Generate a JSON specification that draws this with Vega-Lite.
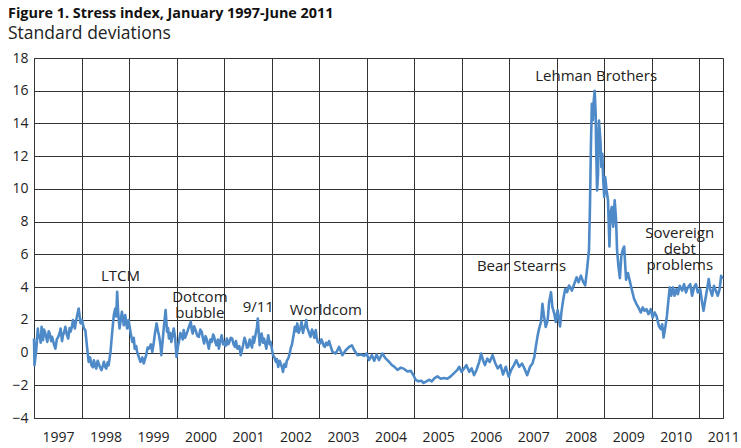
{
  "$schema": "https://vega.github.io/schema/vega-lite/v6.json",
  "width": 689,
  "height": 360,
  "autosize": "none",
  "padding": {"left": 34, "top": 58, "right": 18, "bottom": 30},
  "background": "white",
  "title": {
    "text": "Figure 1. Stress index, January 1997-June 2011",
    "subtitle": "Standard deviations",
    "anchor": "start",
    "frame": "group",
    "dx": -26,
    "font": "Open Sans",
    "fontSize": 14.4,
    "fontWeight": "bold",
    "color": "#111",
    "subtitleFont": "Open Sans",
    "subtitleFontSize": 17.5,
    "subtitleColor": "#222",
    "subtitlePadding": 3,
    "offset": 8
  },
  "config": {
    "view": {"stroke": "#333", "strokeWidth": 1},
    "axis": {
      "labelFont": "Open Sans",
      "labelFontSize": 14,
      "labelColor": "#222",
      "grid": true,
      "gridColor": "#333",
      "gridWidth": 1,
      "ticks": false,
      "domain": false
    }
  },
  "datasets": {
    "stress": [
      {"t": 1997.00, "v": 0.86}, {"t": 1997.01, "v": -0.78}, {"t": 1997.05, "v": 0.24}, {"t": 1997.08, "v": 1.47},
      {"t": 1997.10, "v": 0.9}, {"t": 1997.12, "v": 1.06}, {"t": 1997.14, "v": 0.6}, {"t": 1997.16, "v": 1.57},
      {"t": 1997.19, "v": 0.76}, {"t": 1997.21, "v": 1.4}, {"t": 1997.23, "v": 1.27}, {"t": 1997.26, "v": 0.9},
      {"t": 1997.28, "v": 0.65}, {"t": 1997.31, "v": 1.3}, {"t": 1997.33, "v": 1.16}, {"t": 1997.36, "v": 0.7},
      {"t": 1997.38, "v": 0.96}, {"t": 1997.42, "v": 0.5}, {"t": 1997.45, "v": 0.24}, {"t": 1997.48, "v": 0.8},
      {"t": 1997.51, "v": 0.96}, {"t": 1997.54, "v": 1.2}, {"t": 1997.56, "v": 1.47}, {"t": 1997.59, "v": 0.7},
      {"t": 1997.61, "v": 1.06}, {"t": 1997.64, "v": 1.3}, {"t": 1997.66, "v": 1.57}, {"t": 1997.69, "v": 1.1},
      {"t": 1997.72, "v": 0.86}, {"t": 1997.75, "v": 1.5}, {"t": 1997.77, "v": 1.27}, {"t": 1997.80, "v": 1.6},
      {"t": 1997.82, "v": 1.98}, {"t": 1997.86, "v": 1.47}, {"t": 1997.89, "v": 2.0},
      {"t": 1997.91, "v": 2.29}, {"t": 1997.94, "v": 2.69}, {"t": 1997.98, "v": 1.78}, {"t": 1998.01, "v": 1.98},
      {"t": 1998.05, "v": 1.47}, {"t": 1998.08, "v": 1.37}, {"t": 1998.12, "v": 0.24}, {"t": 1998.15, "v": -0.57},
      {"t": 1998.18, "v": -0.3}, {"t": 1998.21, "v": -0.78}, {"t": 1998.24, "v": -0.9}, {"t": 1998.26, "v": -0.47},
      {"t": 1998.29, "v": -0.8}, {"t": 1998.31, "v": -0.98}, {"t": 1998.34, "v": -0.5}, {"t": 1998.36, "v": -0.67},
      {"t": 1998.39, "v": -0.9}, {"t": 1998.42, "v": -1.08}, {"t": 1998.45, "v": -0.8}, {"t": 1998.47, "v": -0.57},
      {"t": 1998.50, "v": -0.9}, {"t": 1998.52, "v": -0.98}, {"t": 1998.55, "v": -0.6}, {"t": 1998.57, "v": -0.78},
      {"t": 1998.61, "v": 0.04}, {"t": 1998.64, "v": 1.06}, {"t": 1998.68, "v": 2.29}, {"t": 1998.71, "v": 2.69},
      {"t": 1998.73, "v": 2.2}, {"t": 1998.75, "v": 3.71}, {"t": 1998.77, "v": 2.49}, {"t": 1998.80, "v": 1.47},
      {"t": 1998.83, "v": 2.08}, {"t": 1998.85, "v": 2.49}, {"t": 1998.89, "v": 1.67}, {"t": 1998.92, "v": 2.29},
      {"t": 1998.96, "v": 1.47}, {"t": 1998.99, "v": 1.98}, {"t": 1999.03, "v": 1.27}, {"t": 1999.07, "v": 0.65},
      {"t": 1999.10, "v": 0.9}, {"t": 1999.12, "v": 0.24}, {"t": 1999.15, "v": 0.4}, {"t": 1999.17, "v": 0.04},
      {"t": 1999.21, "v": -0.3}, {"t": 1999.24, "v": -0.57}, {"t": 1999.28, "v": -0.3}, {"t": 1999.31, "v": -0.67},
      {"t": 1999.36, "v": -0.16}, {"t": 1999.39, "v": 0.3}, {"t": 1999.42, "v": 0.24}, {"t": 1999.46, "v": 0.5},
      {"t": 1999.49, "v": 0.04}, {"t": 1999.52, "v": 0.6}, {"t": 1999.54, "v": 1.06}, {"t": 1999.58, "v": 1.78},
      {"t": 1999.61, "v": 1.3}, {"t": 1999.63, "v": 1.06}, {"t": 1999.66, "v": 0.5}, {"t": 1999.68, "v": -0.16},
      {"t": 1999.71, "v": 0.8}, {"t": 1999.73, "v": 1.47}, {"t": 1999.77, "v": 2.59}, {"t": 1999.80, "v": 1.27},
      {"t": 1999.82, "v": 1.5}, {"t": 1999.84, "v": 0.86}, {"t": 1999.87, "v": 1.2}, {"t": 1999.89, "v": 0.65},
      {"t": 1999.92, "v": 1.1}, {"t": 1999.94, "v": 1.47}, {"t": 1999.97, "v": 0.9}, {"t": 2000.00, "v": -0.27},
      {"t": 2000.03, "v": 0.4}, {"t": 2000.05, "v": 0.65}, {"t": 2000.08, "v": 1.2}, {"t": 2000.10, "v": 1.06},
      {"t": 2000.13, "v": 0.8}, {"t": 2000.15, "v": 1.37}, {"t": 2000.18, "v": 0.9}, {"t": 2000.20, "v": 1.06},
      {"t": 2000.23, "v": 1.3}, {"t": 2000.26, "v": 1.57}, {"t": 2000.30, "v": 1.88}, {"t": 2000.32, "v": 1.4},
      {"t": 2000.34, "v": 1.16}, {"t": 2000.37, "v": 1.6}, {"t": 2000.40, "v": 1.37}, {"t": 2000.44, "v": 1.0},
      {"t": 2000.47, "v": 0.96}, {"t": 2000.50, "v": 1.4}, {"t": 2000.53, "v": 1.27}, {"t": 2000.56, "v": 0.8},
      {"t": 2000.58, "v": 0.55}, {"t": 2000.61, "v": 1.0}, {"t": 2000.63, "v": 0.86}, {"t": 2000.66, "v": 0.5},
      {"t": 2000.68, "v": 0.24}, {"t": 2000.71, "v": 0.8}, {"t": 2000.74, "v": 0.65}, {"t": 2000.77, "v": 1.1},
      {"t": 2000.79, "v": 0.96}, {"t": 2000.82, "v": 0.6}, {"t": 2000.84, "v": 0.45}, {"t": 2000.87, "v": 0.8},
      {"t": 2000.89, "v": 0.24}, {"t": 2000.92, "v": 0.7}, {"t": 2000.95, "v": 1.06}, {"t": 2000.98, "v": 0.5},
      {"t": 2001.00, "v": 0.65}, {"t": 2001.03, "v": 0.4}, {"t": 2001.06, "v": 0.86}, {"t": 2001.08, "v": 0.5},
      {"t": 2001.10, "v": 0.55}, {"t": 2001.14, "v": 0.9}, {"t": 2001.17, "v": 0.86}, {"t": 2001.20, "v": 0.5},
      {"t": 2001.23, "v": 0.35}, {"t": 2001.25, "v": 0.7}, {"t": 2001.28, "v": 0.24}, {"t": 2001.32, "v": 0.4},
      {"t": 2001.35, "v": -0.16}, {"t": 2001.38, "v": 0.2}, {"t": 2001.40, "v": 0.45}, {"t": 2001.43, "v": 0.9},
      {"t": 2001.46, "v": 0.65}, {"t": 2001.48, "v": 0.3}, {"t": 2001.51, "v": 0.35}, {"t": 2001.54, "v": 0.8},
      {"t": 2001.56, "v": 0.55}, {"t": 2001.59, "v": 0.3}, {"t": 2001.61, "v": 0.96}, {"t": 2001.63, "v": 0.6},
      {"t": 2001.66, "v": 1.06}, {"t": 2001.69, "v": 1.5}, {"t": 2001.71, "v": 2.08}, {"t": 2001.73, "v": 1.2},
      {"t": 2001.75, "v": 0.45}, {"t": 2001.77, "v": 0.9}, {"t": 2001.79, "v": 1.16}, {"t": 2001.82, "v": 0.6},
      {"t": 2001.84, "v": 0.86}, {"t": 2001.87, "v": 0.5}, {"t": 2001.89, "v": 0.24}, {"t": 2001.91, "v": 0.7},
      {"t": 2001.93, "v": 1.06}, {"t": 2001.96, "v": 0.5}, {"t": 2001.98, "v": 0.65}, {"t": 2002.03, "v": -0.16},
      {"t": 2002.06, "v": -0.3}, {"t": 2002.09, "v": -0.57}, {"t": 2002.11, "v": -0.4}, {"t": 2002.14, "v": -0.88},
      {"t": 2002.17, "v": -0.5}, {"t": 2002.19, "v": -0.67}, {"t": 2002.22, "v": -0.9}, {"t": 2002.24, "v": -1.18},
      {"t": 2002.27, "v": -0.7}, {"t": 2002.30, "v": -0.88}, {"t": 2002.32, "v": -0.5}, {"t": 2002.35, "v": -0.37},
      {"t": 2002.38, "v": -0.1}, {"t": 2002.40, "v": 0.24}, {"t": 2002.43, "v": 0.5}, {"t": 2002.45, "v": 0.86},
      {"t": 2002.47, "v": 1.2}, {"t": 2002.49, "v": 1.57}, {"t": 2002.52, "v": 1.3}, {"t": 2002.54, "v": 1.78},
      {"t": 2002.57, "v": 1.2}, {"t": 2002.59, "v": 1.37}, {"t": 2002.61, "v": 1.6}, {"t": 2002.63, "v": 1.88},
      {"t": 2002.66, "v": 1.2}, {"t": 2002.68, "v": 1.47}, {"t": 2002.71, "v": 1.7}, {"t": 2002.73, "v": 1.98},
      {"t": 2002.75, "v": 1.5}, {"t": 2002.77, "v": 1.37}, {"t": 2002.80, "v": 1.1}, {"t": 2002.82, "v": 0.96},
      {"t": 2002.85, "v": 1.4}, {"t": 2002.87, "v": 1.27}, {"t": 2002.90, "v": 0.9}, {"t": 2002.93, "v": 1.37},
      {"t": 2002.95, "v": 0.9}, {"t": 2002.97, "v": 0.65}, {"t": 2003.02, "v": 0.55}, {"t": 2003.05, "v": 0.8},
      {"t": 2003.07, "v": 0.65}, {"t": 2003.10, "v": 0.4}, {"t": 2003.12, "v": 0.35}, {"t": 2003.15, "v": 0.6},
      {"t": 2003.18, "v": 0.45}, {"t": 2003.21, "v": 0.70},
      {"t": 2003.28, "v": 0.04}, {"t": 2003.35, "v": -0.06}, {"t": 2003.42, "v": 0.34}, {"t": 2003.49, "v": -0.16},
      {"t": 2003.56, "v": 0.14}, {"t": 2003.63, "v": 0.34}, {"t": 2003.69, "v": 0.44}, {"t": 2003.74, "v": 0.14},
      {"t": 2003.81, "v": -0.16}, {"t": 2003.88, "v": -0.12}, {"t": 2003.95, "v": -0.20}, {"t": 2004.00, "v": -0.06},
      {"t": 2004.05, "v": -0.46}, {"t": 2004.11, "v": -0.16}, {"t": 2004.16, "v": -0.50}, {"t": 2004.21, "v": -0.12},
      {"t": 2004.26, "v": -0.46}, {"t": 2004.33, "v": -0.06}, {"t": 2004.40, "v": -0.36}, {"t": 2004.47, "v": -0.56},
      {"t": 2004.53, "v": -0.76}, {"t": 2004.58, "v": -0.86}, {"t": 2004.65, "v": -1.06}, {"t": 2004.72, "v": -0.92},
      {"t": 2004.79, "v": -1.00}, {"t": 2004.86, "v": -1.16}, {"t": 2004.93, "v": -1.12}, {"t": 2004.98, "v": -1.36},
      {"t": 2005.03, "v": -1.66}, {"t": 2005.09, "v": -1.76}, {"t": 2005.15, "v": -1.72}, {"t": 2005.20, "v": -1.86},
      {"t": 2005.26, "v": -1.76}, {"t": 2005.32, "v": -1.66}, {"t": 2005.37, "v": -1.76}, {"t": 2005.43, "v": -1.56},
      {"t": 2005.49, "v": -1.46}, {"t": 2005.56, "v": -1.60}, {"t": 2005.63, "v": -1.56}, {"t": 2005.70, "v": -1.60},
      {"t": 2005.77, "v": -1.46}, {"t": 2005.84, "v": -1.26}, {"t": 2005.91, "v": -1.06}, {"t": 2005.95, "v": -0.87},
      {"t": 2006.00, "v": -1.18}, {"t": 2006.05, "v": -0.97}, {"t": 2006.10, "v": -0.77}, {"t": 2006.16, "v": -1.18},
      {"t": 2006.21, "v": -0.97}, {"t": 2006.26, "v": -1.38}, {"t": 2006.31, "v": -1.08}, {"t": 2006.37, "v": -0.57},
      {"t": 2006.41, "v": -0.06}, {"t": 2006.45, "v": -0.47}, {"t": 2006.49, "v": -0.77}, {"t": 2006.54, "v": -0.37},
      {"t": 2006.59, "v": -0.57}, {"t": 2006.65, "v": -0.16}, {"t": 2006.71, "v": -0.67}, {"t": 2006.76, "v": -0.97},
      {"t": 2006.82, "v": -0.77}, {"t": 2006.87, "v": -1.34}, {"t": 2006.93, "v": -0.87}, {"t": 2006.99, "v": -1.48},
      {"t": 2007.04, "v": -1.08}, {"t": 2007.10, "v": -0.77}, {"t": 2007.15, "v": -0.47}, {"t": 2007.21, "v": -0.87},
      {"t": 2007.27, "v": -0.67}, {"t": 2007.32, "v": -0.97}, {"t": 2007.38, "v": -1.38}, {"t": 2007.44, "v": -0.87},
      {"t": 2007.49, "v": -0.67}, {"t": 2007.53, "v": -0.26}, {"t": 2007.56, "v": 0.34}, {"t": 2007.60, "v": 1.05},
      {"t": 2007.63, "v": 1.46}, {"t": 2007.67, "v": 1.87}, {"t": 2007.70, "v": 2.98}, {"t": 2007.73, "v": 2.27},
      {"t": 2007.77, "v": 1.56}, {"t": 2007.81, "v": 1.97}, {"t": 2007.84, "v": 3.08}, {"t": 2007.88, "v": 3.69},
      {"t": 2007.91, "v": 2.78}, {"t": 2007.95, "v": 2.37}, {"t": 2007.98, "v": 1.87}, {"t": 2008.02, "v": 2.60},
      {"t": 2008.07, "v": 1.60}, {"t": 2008.10, "v": 2.47}, {"t": 2008.14, "v": 3.29}, {"t": 2008.18, "v": 3.89},
      {"t": 2008.22, "v": 3.69}, {"t": 2008.26, "v": 4.10}, {"t": 2008.32, "v": 3.79}, {"t": 2008.37, "v": 4.20},
      {"t": 2008.42, "v": 4.60}, {"t": 2008.46, "v": 4.30}, {"t": 2008.51, "v": 4.70}, {"t": 2008.56, "v": 4.30},
      {"t": 2008.60, "v": 4.10}, {"t": 2008.64, "v": 5.10}, {"t": 2008.68, "v": 6.30}, {"t": 2008.70, "v": 8.90},
      {"t": 2008.72, "v": 12.55}, {"t": 2008.74, "v": 15.20}, {"t": 2008.76, "v": 14.20}, {"t": 2008.78, "v": 15.40},
      {"t": 2008.80, "v": 16.00}, {"t": 2008.82, "v": 14.60}, {"t": 2008.83, "v": 12.55}, {"t": 2008.85, "v": 9.90},
      {"t": 2008.87, "v": 10.90}, {"t": 2008.88, "v": 13.56}, {"t": 2008.89, "v": 14.17}, {"t": 2008.92, "v": 12.96},
      {"t": 2008.94, "v": 11.34}, {"t": 2008.96, "v": 12.15}, {"t": 2008.98, "v": 10.53}, {"t": 2009.00, "v": 9.51},
      {"t": 2009.02, "v": 10.73}, {"t": 2009.05, "v": 9.92}, {"t": 2009.08, "v": 9.31}, {"t": 2009.11, "v": 6.48},
      {"t": 2009.13, "v": 8.50}, {"t": 2009.16, "v": 8.90}, {"t": 2009.19, "v": 7.69}, {"t": 2009.22, "v": 9.31},
      {"t": 2009.25, "v": 8.10}, {"t": 2009.27, "v": 6.28}, {"t": 2009.30, "v": 5.26}, {"t": 2009.33, "v": 4.55},
      {"t": 2009.36, "v": 5.87}, {"t": 2009.39, "v": 6.28}, {"t": 2009.42, "v": 6.48}, {"t": 2009.46, "v": 4.45},
      {"t": 2009.50, "v": 4.86}, {"t": 2009.54, "v": 4.35}, {"t": 2009.58, "v": 3.85}, {"t": 2009.63, "v": 3.27},
      {"t": 2009.68, "v": 2.96}, {"t": 2009.72, "v": 2.76}, {"t": 2009.77, "v": 2.45}, {"t": 2009.81, "v": 2.76},
      {"t": 2009.85, "v": 2.55}, {"t": 2009.89, "v": 2.65}, {"t": 2009.93, "v": 2.35}, {"t": 2009.98, "v": 2.65},
      {"t": 2010.02, "v": 2.14}, {"t": 2010.06, "v": 2.45}, {"t": 2010.10, "v": 2.24}, {"t": 2010.15, "v": 1.63},
      {"t": 2010.19, "v": 1.43}, {"t": 2010.22, "v": 1.73}, {"t": 2010.25, "v": 0.92}, {"t": 2010.29, "v": 1.63},
      {"t": 2010.32, "v": 2.24}, {"t": 2010.35, "v": 3.16}, {"t": 2010.38, "v": 3.98}, {"t": 2010.41, "v": 3.47},
      {"t": 2010.45, "v": 3.98}, {"t": 2010.48, "v": 3.47}, {"t": 2010.52, "v": 3.88}, {"t": 2010.55, "v": 3.57},
      {"t": 2010.59, "v": 4.08}, {"t": 2010.64, "v": 3.78}, {"t": 2010.68, "v": 4.18}, {"t": 2010.72, "v": 3.67},
      {"t": 2010.76, "v": 3.98}, {"t": 2010.81, "v": 4.18}, {"t": 2010.85, "v": 3.47}, {"t": 2010.89, "v": 3.98},
      {"t": 2010.93, "v": 4.18}, {"t": 2010.97, "v": 3.67}, {"t": 2011.02, "v": 3.88}, {"t": 2011.06, "v": 3.06},
      {"t": 2011.09, "v": 2.55}, {"t": 2011.13, "v": 3.27}, {"t": 2011.16, "v": 3.78}, {"t": 2011.20, "v": 4.49},
      {"t": 2011.23, "v": 3.88}, {"t": 2011.27, "v": 3.47}, {"t": 2011.31, "v": 4.08}, {"t": 2011.35, "v": 3.78},
      {"t": 2011.39, "v": 3.47}, {"t": 2011.43, "v": 3.88}, {"t": 2011.46, "v": 4.69}, {"t": 2011.49, "v": 4.49}
    ],
    "notes": [
      {"label": "LTCM", "t": 1998.82, "v": 4.7},
      {"label": "Dotcom\nbubble", "t": 2000.49, "v": 3.42},
      {"label": "9/11", "t": 2001.72, "v": 2.78},
      {"label": "Worldcom", "t": 2003.14, "v": 2.63},
      {"label": "Bear Stearns", "t": 2007.26, "v": 5.29},
      {"label": "Lehman Brothers", "t": 2008.83, "v": 16.93},
      {"label": "Sovereign\ndebt\nproblems", "t": 2010.59, "v": 7.33}
    ]
  },
  "layer": [
    {
      "data": {"name": "stress"},
      "mark": {"type": "line", "color": "#4e8ac8", "strokeWidth": 2.6, "strokeJoin": "round"},
      "encoding": {
        "x": {
          "field": "t",
          "type": "quantitative",
          "scale": {"domain": [1997, 2011.5], "nice": false, "zero": false},
          "axis": {
            "values": [1997, 1998, 1999, 2000, 2001, 2002, 2003, 2004, 2005, 2006, 2007, 2008, 2009, 2010, 2011],
            "format": "d",
            "labelOffset": 24,
            "labelPadding": 12,
            "labelFlush": false,
            "labelOverlap": false,
            "grid": true,
            "title": null
          }
        },
        "y": {
          "field": "v",
          "type": "quantitative",
          "scale": {"domain": [-4, 18], "nice": false, "zero": false},
          "axis": {
            "values": [-4, -2, 0, 2, 4, 6, 8, 10, 12, 14, 16, 18],
            "labelPadding": 6,
            "labelOverlap": false,
            "grid": true,
            "title": null
          }
        }
      }
    },
    {
      "data": {"name": "notes"},
      "mark": {"type": "text", "font": "Open Sans", "fontSize": 15, "lineBreak": "\n", "lineHeight": 16, "baseline": "middle", "align": "center", "color": "#222"},
      "encoding": {
        "x": {
          "field": "t",
          "type": "quantitative",
          "scale": {"domain": [1997, 2011.5], "nice": false, "zero": false},
          "axis": {
            "values": [1997, 1998, 1999, 2000, 2001, 2002, 2003, 2004, 2005, 2006, 2007, 2008, 2009, 2010, 2011],
            "format": "d",
            "labelOffset": 24,
            "labelPadding": 12,
            "labelFlush": false,
            "labelOverlap": false,
            "grid": true,
            "title": null
          }
        },
        "y": {
          "field": "v",
          "type": "quantitative",
          "scale": {"domain": [-4, 18], "nice": false, "zero": false},
          "axis": {
            "values": [-4, -2, 0, 2, 4, 6, 8, 10, 12, 14, 16, 18],
            "labelPadding": 6,
            "labelOverlap": false,
            "grid": true,
            "title": null
          }
        },
        "text": {"field": "label"}
      }
    }
  ]
}
